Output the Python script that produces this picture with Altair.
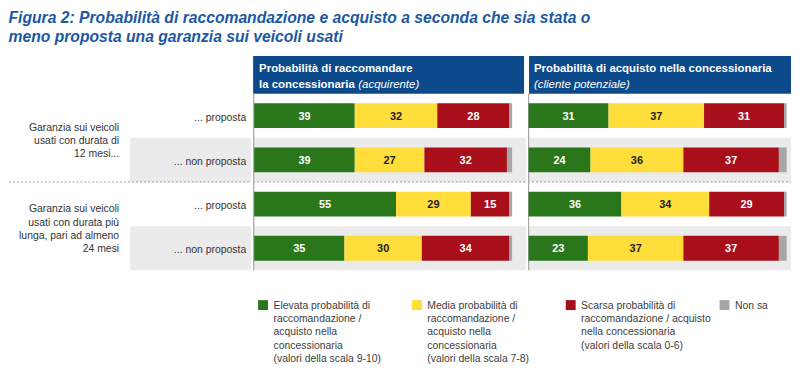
import altair as alt
import pandas as pd

# ---------------- data ----------------
title_lines = [
    "Figura 2: Probabilità di raccomandazione e acquisto a seconda che sia stata o",
    "meno proposta una garanzia sui veicoli usati",
]
row_ids = [0, 1, 2, 3]
row_labels = ["... proposta", "... non proposta", "... proposta", "... non proposta"]
row_group = [0, 0, 1, 1]
group_labels = [
    ["Garanzia sui veicoli", "usati con durata di", "12 mesi..."],
    ["Garanzia sui veicoli", "usati con durata più", "lunga, pari ad almeno", "24 mesi"],
]
categories = ["Elevata", "Media", "Scarsa", "Non sa"]
legend_labels = [
    "Elevata probabilità di\nraccomandazione /\nacquisto nella\nconcessionaria\n(valori della scala 9-10)",
    "Media probabilità di\nraccomandazione /\nacquisto nella\nconcessionaria\n(valori della scala 7-8)",
    "Scarsa probabilità di\nraccomandazione / acquisto\nnella concessionaria\n(valori della scala 0-6)",
    "Non sa",
]
cat_colors = ["#2A761B", "#FFDD3A", "#A80F1A", "#A6A6A6"]

# Probabilità di raccomandare (acquirente)
racc_elevata = [39, 39, 55, 35]
racc_media = [32, 27, 29, 30]
racc_scarsa = [28, 32, 15, 34]
racc_nonsa = [1, 2, 1, 1]
# Probabilità di acquisto (cliente potenziale)
acq_elevata = [31, 24, 36, 23]
acq_media = [37, 36, 34, 37]
acq_scarsa = [31, 37, 29, 37]
acq_nonsa = [1, 3, 1, 3]

# ---------------- tables ----------------
def long_table(series):
    recs = []
    for ci, (cat, vals) in enumerate(zip(categories, series)):
        for r, v in zip(row_ids, vals):
            recs.append({"row": r, "cat": cat, "order": ci, "value": v})
    return pd.DataFrame(recs)

racc_df = long_table([racc_elevata, racc_media, racc_scarsa, racc_nonsa])
acq_df = long_table([acq_elevata, acq_media, acq_scarsa, acq_nonsa])

rows_df = pd.DataFrame({"row": row_ids, "label": row_labels, "group": row_group})
grp_pos = rows_df.groupby("group")["row"].mean().tolist()
groups_df = pd.DataFrame({"pos": grp_pos, "label": ["\n".join(g) for g in group_labels]})
sep_pos = (rows_df[rows_df.group == 0].row.max() + rows_df[rows_df.group == 1].row.min()) / 2
legend_df = pd.DataFrame({"cat": categories, "label": legend_labels, "idx": list(range(len(categories)))})
one = pd.DataFrame({"a": [0]})

FONT = "Liberation Sans"
BAND = "#EBEBEB"
HEAD = "#0C4A8C"
H = 216
YDOM = [-1.35, 3.5]
PITCH = H / (YDOM[1] - YDOM[0])  # pixels per row
yscale = alt.Scale(domain=YDOM, reverse=True, nice=False, zero=False)
BAR_HALF = 12.5 / PITCH
LINE_H = 13.3


def Yq(field):
    return alt.Y(field, type="quantitative", scale=yscale, axis=None)


def bands(width, x0=0):
    return (
        alt.Chart(rows_df)
        .transform_filter("indexof(datum.label, 'non') >= 0")
        .transform_calculate(y0="datum.row - 0.5", y1="datum.row + 0.5")
        .mark_rect(color=BAND)
        .encode(x=alt.value(x0), x2=alt.value(width), y=Yq("y0"), y2="y1:Q")
    )


def dashed(width):
    return (
        alt.Chart(one)
        .mark_rule(color="#9A9A9A", strokeDash=[2, 2], strokeWidth=1)
        .encode(x=alt.value(0), x2=alt.value(width),
                y=alt.Y(datum=float(sep_pos), type="quantitative", scale=yscale, axis=None))
    )


def txt(text, x, y, **kw):
    return alt.Chart(one).mark_text(text=text, align="left", baseline="middle", font=FONT, **kw).encode(
        x=alt.value(x), y=alt.value(y))


def bar_panel(df, width, xdomain, head_x0, head_x1, head_texts):
    xscale = alt.Scale(domain=xdomain, nice=False, zero=False)
    base = (
        alt.Chart(df)
        .transform_stack(stack="value", groupby=["row"], sort=[alt.SortField("order", order="ascending")],
                         as_=["x0", "x1"])
        .transform_calculate(yt=f"datum.row - {BAR_HALF}", yb=f"datum.row + {BAR_HALF}",
                             mid="(datum.x0 + datum.x1) / 2")
    )
    rects = base.mark_rect().encode(
        x=alt.X("x0:Q", scale=xscale, axis=None),
        x2="x1:Q",
        y=Yq("yt"),
        y2="yb:Q",
        color=alt.Color("cat:N", scale=alt.Scale(domain=categories, range=cat_colors), legend=None),
    )
    labels = base.transform_filter("datum.cat != 'Non sa'").mark_text(
        font=FONT, fontSize=11, fontWeight="bold", baseline="middle", dy=1
    ).encode(
        x=alt.X("mid:Q", scale=xscale, axis=None),
        y=Yq("row"),
        text=alt.Text("value:Q"),
        color=alt.condition("datum.cat == 'Media'", alt.value("#1E1E1E"), alt.value("#FFFFFF")),
    )
    head = alt.Chart(one).mark_rect(color=HEAD).encode(
        x=alt.value(head_x0), x2=alt.value(head_x1), y=alt.value(0), y2=alt.value(38))
    vline = alt.Chart(one).mark_rule(color="#A6A6A6", strokeWidth=1.2).encode(
        x=alt.value(0.6),
        y=alt.Y(datum=-0.5, type="quantitative", scale=yscale, axis=None),
        y2=alt.Y2(datum=3.5),
    )
    layers = [bands(width), dashed(width), head] + head_texts + [vline, rects, labels]
    return alt.layer(*layers).properties(width=width, height=H)


head_style = dict(fontSize=11.5, color="#FFFFFF")
left_head = [
    txt("Probabilità di raccomandare", 6, 13, fontWeight="bold", **head_style),
    txt("la concessionaria", 6, 29, fontWeight="bold", **head_style),
    txt("(acquirente)", 106, 29, fontStyle="italic", **head_style),
]
right_head = [
    txt("Probabilità di acquisto nella concessionaria", 6, 13, fontWeight="bold", **head_style),
    txt("(cliente potenziale)", 6, 29, fontStyle="italic", **head_style),
]

left_panel = bar_panel(racc_df, 275, [-0.4, 105.4], 0, 273, left_head)
right_panel = bar_panel(acq_df, 265, [-0.2, 101.7], 1, 265, right_head)

# label panel
row_text = alt.Chart(rows_df).mark_text(
    font=FONT, fontSize=10.5, color="#333333", align="right", baseline="middle", dy=2
).encode(x=alt.value(239), y=Yq("row"), text="label:N")
grp_text = (
    alt.Chart(groups_df)
    .transform_calculate(lines="split(datum.label, '\\n')")
    .transform_calculate(ytop=f"datum.pos - (length(datum.lines) - 1) / 2 * {LINE_H / PITCH}")
    .mark_text(font=FONT, fontSize=10.5, color="#333333", align="right", baseline="middle",
               lineHeight=LINE_H, dy=3)
    .encode(x=alt.value(111), y=Yq("ytop"), text="lines:N")
)
label_panel = alt.layer(bands(244, 122), dashed(244), row_text, grp_text).properties(width=244, height=H)

top = alt.hconcat(label_panel, left_panel, right_panel, spacing=0)

# legend panel
lx = alt.X("idx:Q", scale=alt.Scale(domain=[0, 3], range=[256, 721], nice=False, zero=False), axis=None)
leg_sq = alt.Chart(legend_df).mark_square(size=100, opacity=1).encode(
    x=lx, y=alt.value(34),
    color=alt.Color("cat:N", scale=alt.Scale(domain=categories, range=cat_colors), legend=None),
)
leg_tx = (
    alt.Chart(legend_df)
    .transform_calculate(lines="split(datum.label, '\\n')")
    .mark_text(font=FONT, fontSize=10.5, color="#404040", align="left", baseline="alphabetic",
               lineHeight=LINE_H, dx=10.5)
    .encode(x=lx, y=alt.value(38), text="lines:N")
)
legend_panel = alt.layer(leg_sq, leg_tx).properties(width=784, height=91)

chart = (
    alt.vconcat(top, legend_panel, spacing=0)
    .properties(
        padding=0,
        title=alt.TitleParams(
            text=title_lines, font=FONT, fontSize=15.8, fontWeight="bold", fontStyle="italic",
            color="#1C58A3", anchor="start", baseline="top", lineHeight=19.5, offset=12, dy=2,
        ),
    )
    .configure(font=FONT)
    .configure_view(stroke=None)
    .configure_concat(spacing=0)
)

chart.save("out.html", embed_options={"renderer": "svg", "actions": False})
